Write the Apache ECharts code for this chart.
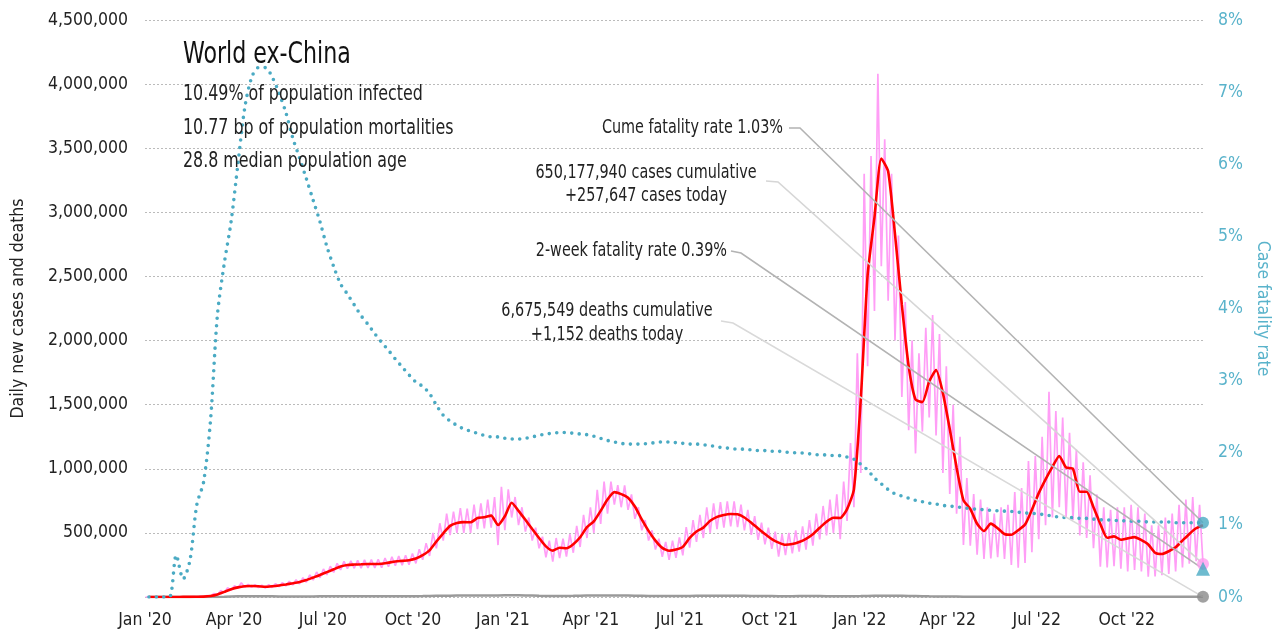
<!DOCTYPE html>
<html><head><meta charset="utf-8">
<script src="https://cdn.jsdelivr.net/npm/echarts@6/dist/echarts.min.js"></script>
<style>html,body{margin:0;padding:0;background:#fff}#c{width:1273px;height:637px}</style>
</head><body><div id="c"></div>
<script>
const FONT = "'Liberation Sans Narrow','Arial Narrow','DejaVu Sans Condensed',sans-serif";

// weekly observation grid: first week-ending date
const firstWeek = '2020-01-05';
const axisStart = '2020-01-01';
const axisEnd = '2022-12-18';
const monthNames = ['Jan','Feb','Mar','Apr','May','Jun','Jul','Aug','Sep','Oct','Nov','Dec'];

// 7-day average of daily new cases (thousands), weekly
const avgCases = [
0,0,0,0,0,1,1,2,3,8,
20,40,60,75,84,86,84,80,84,90,
98,107,117,132,152,172,194,216,238,250,
253,255,257,257,259,268,277,282,287,300,
327,364,433,497,555,577,584,583,616,622,
635,561,630,735,672,602,530,460,395,362,
384,380,412,466,545,590,672,760,818,802,
774,706,605,516,440,383,361,370,391,461,
511,541,594,625,640,647,645,620,579,534,
491,452,424,407,413,429,454,490,540,587,
618,616,685,840,1540,2510,2960,3420,3320,2830,
2280,1800,1540,1520,1680,1770,1590,1310,1010,755,
688,571,515,572,536,491,485,520,565,680,
810,918,1015,1100,1010,1000,821,821,700,570,
462,473,447,457,467,444,410,345,335,357,
388,440,492,536,560];

// daily new cases: weekly high (mid-week) and low (week end), thousands
const dailyHigh = [
0,0,0,0,0,1,2,3,5,12,
28,50,72,88,111,98,96,92,96,104,
112,122,134,150,172,195,218,240,262,278,
282,285,290,292,294,304,314,320,326,340,
372,420,500,575,650,665,694,690,720,731,
760,780,860,840,780,700,620,540,470,440,
460,455,490,555,640,700,835,900,900,873,
870,800,700,600,520,455,430,440,465,545,
600,640,700,731,740,745,745,720,680,630,
580,540,510,490,500,520,550,600,650,710,
760,800,900,1200,1900,3300,3440,4080,3570,3300,
2820,2300,2000,1900,2100,2200,2050,1800,1500,1250,
928,803,760,700,650,700,720,819,850,1060,
1100,1250,1600,1450,1400,1280,1150,1050,950,800,
700,680,700,700,720,700,650,560,560,620,
650,720,760,780,720];
const dailyLow = [
0,0,0,0,0,1,1,1,2,5,
15,33,52,68,76,76,74,70,74,80,
86,94,102,115,132,150,172,192,212,222,
224,225,226,226,228,236,244,248,252,262,
290,320,380,440,483,500,500,500,530,535,
540,405,522,620,560,510,440,380,310,275,
304,315,345,390,460,500,570,650,720,700,
680,610,520,440,370,314,289,305,325,385,
430,460,500,530,540,550,545,520,485,445,
410,375,314,327,340,353,370,400,450,480,
500,450,593,700,967,1800,2230,2580,2310,2000,
1560,1300,1120,1290,1400,1260,967,803,650,405,
400,330,296,300,310,296,250,228,265,350,
450,560,620,700,620,600,480,460,380,236,
230,240,220,200,210,200,158,160,170,180,
200,230,260,280,257.647];

// daily deaths (thousands), weekly
const dailyDeaths = [
0,0,0,0,0,0,0,0,0.01,0.05,
0.3,1.2,3.5,5.5,6.5,6.8,6.3,5.8,5.2,4.6,
4.3,4.2,4.4,4.5,4.6,5.0,5.3,5.6,5.7,5.8,
5.8,5.6,5.4,5.3,5.3,5.3,5.4,5.6,5.8,6.3,
7.0,8.0,9.0,10.0,10.5,10.8,11.0,11.2,11.5,11.5,
11.8,11.0,13.0,14.0,13.8,12.5,11.0,9.5,8.5,8.0,
8.0,8.3,9.0,10.0,11.0,11.8,12.0,12.3,12.5,12.0,
11.0,10.0,9.3,8.5,8.0,7.5,7.4,7.5,7.8,8.3,
9.0,9.5,9.8,10.0,10.0,9.8,9.3,8.8,8.2,7.6,
7.2,7.0,6.8,6.7,6.8,7.0,7.0,7.0,7.0,6.8,
6.6,6.4,6.3,6.8,7.5,8.5,9.5,10.2,10.3,10.0,
9.0,8.0,7.0,6.0,5.0,4.3,3.8,3.4,3.0,2.6,
2.3,2.1,1.9,1.8,1.7,1.7,1.8,1.9,2.0,2.1,
2.3,2.4,2.4,2.4,2.3,2.2,2.0,1.9,1.8,1.7,
1.6,1.5,1.5,1.5,1.4,1.4,1.3,1.3,1.3,1.3,
1.3,1.3,1.4,1.4,1.152];

// cumulative case fatality rate (%), weekly
const cfr = [
0,0,0,0,0.58,0.25,0.51,1.28,1.6,2.45,
3.9,4.62,5.2,6.0,6.78,7.2,7.34,7.34,7.21,6.99,
6.72,6.37,6.09,5.8,5.5,5.2,4.86,4.58,4.34,4.2,
4.05,3.9,3.78,3.65,3.53,3.42,3.3,3.19,3.08,2.98,
2.92,2.82,2.66,2.52,2.44,2.38,2.33,2.3,2.27,2.24,
2.22,2.22,2.2,2.19,2.19,2.2,2.22,2.24,2.26,2.27,
2.28,2.28,2.27,2.26,2.25,2.23,2.2,2.17,2.15,2.13,
2.12,2.12,2.12,2.13,2.14,2.15,2.15,2.14,2.13,2.12,
2.12,2.11,2.1,2.08,2.07,2.06,2.05,2.05,2.04,2.03,
2.03,2.02,2.02,2.01,2.0,2.0,1.99,1.98,1.97,1.97,
1.96,1.96,1.94,1.91,1.84,1.76,1.65,1.57,1.49,1.43,
1.4,1.37,1.34,1.32,1.3,1.29,1.27,1.26,1.25,1.235,
1.225,1.215,1.21,1.2,1.195,1.19,1.185,1.175,1.165,1.16,
1.15,1.14,1.12,1.11,1.1,1.1,1.09,1.09,1.08,1.07,
1.07,1.06,1.06,1.05,1.05,1.05,1.04,1.04,1.04,1.04,
1.03,1.03,1.03,1.03,1.03];

// summary figures
const cumeCFR = 1.03;
const twoWeekCFR = 0.39;
const casesCumulative = 650177940;
const casesToday = 257647;
const deathsCumulative = 6675549;
const deathsToday = 1152;
const titleText = 'World ex-China';
const subLines = ['10.49% of population infected', '10.77 bp of population mortalities', '28.8 median population age'];

function parseDay(s){ const p = s.split('-').map(Number); return new Date(p[0], p[1]-1, p[2]).getTime(); }
const DAY = 86400000;
const w0 = parseDay(firstWeek);
const weekT = avgCases.map((_, k) => w0 + 7*k*DAY);
const tEnd = parseDay(axisEnd);

const avgData = avgCases.map((v,k) => [weekT[k], v*1000]);
const deathData = dailyDeaths.map((v,k) => [weekT[k], v*1000]);
const cfrData = cfr.map((v,k) => [weekT[k], v]);
const dailyData = [];
dailyHigh.forEach((v,k) => {
  dailyData.push([weekT[k] - 3.5*DAY, v*1000]);
  dailyData.push([weekT[k], dailyLow[k]*1000]);
});

const fmt = n => n.toLocaleString('en-US');
const TEAL = '#4aaac3';
const TEAL_TXT = '#5ab3cb';
const AX = 17.5;
const chart = echarts.init(document.getElementById('c'));
chart.setOption({
  animation: false,
  backgroundColor: '#fff',
  textStyle: { fontFamily: FONT },
  grid: { left: 145, right: 70, top: 20, bottom: 40, containLabel: false, outerBoundsMode: 'none' },
  xAxis: {
    type: 'time',
    min: parseDay(axisStart), max: tEnd,
    splitNumber: 12,
    axisLine: { show: false }, axisTick: { show: false },
    splitLine: { show: false },
    axisLabel: {
      formatter: v => { const d = new Date(v); return monthNames[d.getMonth()] + " '" + String(d.getFullYear()).slice(2); },
      fontFamily: FONT, fontSize: AX, color: '#222', margin: 14, hideOverlap: false
    }
  },
  yAxis: [{
    type: 'value', min: 0, max: 4500000, interval: 500000,
    name: 'Daily new cases and deaths', nameLocation: 'middle', nameGap: 118,
    nameTextStyle: { fontFamily: FONT, fontSize: AX, color: '#222' },
    axisLine: { show: false }, axisTick: { show: false },
    axisLabel: { formatter: v => v === 0 ? '' : fmt(v), fontFamily: FONT, fontSize: AX, color: '#222', margin: 17 },
    splitLine: { lineStyle: { type: [2, 2], color: '#bbb', width: 1 } }
  }, {
    type: 'value', min: 0, max: 8, interval: 1, position: 'right',
    name: 'Case fatality rate', nameLocation: 'middle', nameGap: 43, nameRotate: -90,
    nameTextStyle: { fontFamily: FONT, fontSize: AX, color: TEAL_TXT },
    axisLine: { show: false }, axisTick: { show: false },
    axisLabel: { formatter: v => v + '%', fontFamily: FONT, fontSize: AX, color: TEAL_TXT, margin: 15 },
    splitLine: { show: false }
  }],
  series: [
    { name: 'Daily cases', type: 'line', data: dailyData, showSymbol: false, z: 1,
      lineStyle: { color: '#ff9ef6', width: 1.7 } },
    { name: 'Daily deaths', type: 'line', data: deathData, showSymbol: false, z: 2,
      lineStyle: { color: '#9a9a9a', width: 2.5 } },
    { name: '7-day average', type: 'line', data: avgData, showSymbol: false, z: 3, smooth: 0.2,
      lineStyle: { color: '#ff0000', width: 2.6 } },
    { name: 'Case fatality rate', type: 'line', yAxisIndex: 1, data: cfrData, showSymbol: false, z: 4, smooth: 0.3,
      lineStyle: { color: TEAL, width: 3.6, type: [0, 7.5], cap: 'round' } },
    { type: 'scatter', data: [[tEnd, deathsToday]], symbolSize: 12, itemStyle: { color: '#8a8a8a' }, z: 10 },
    { type: 'scatter', data: [[tEnd, casesToday]], symbolSize: 12, itemStyle: { color: '#ff9ef0' }, z: 10 },
    { type: 'scatter', yAxisIndex: 1, data: [[tEnd, twoWeekCFR]], symbol: 'triangle', symbolSize: 14, itemStyle: { color: TEAL }, z: 10 },
    { type: 'scatter', yAxisIndex: 1, data: [[tEnd, cumeCFR]], symbolSize: 12, itemStyle: { color: TEAL }, z: 10 }
  ]
});

// title block and annotations (condensed text), leader lines to the end points
const SX = 0.82;
const pL = v => chart.convertToPixel({ xAxisIndex: 0, yAxisIndex: 0 }, [tEnd, v]);
const pR = v => chart.convertToPixel({ xAxisIndex: 0, yAxisIndex: 1 }, [tEnd, v]);
const txt = (t, x, y, align, size, color) => ({ type: 'text', z: 20, x, y, scaleX: SX,
  style: { text: t, x: 0, y: 0, textAlign: align, textVerticalAlign: 'middle', fontFamily: FONT, fontSize: size || 19.5, fill: color || '#222' } });
const leader = (pts, color) => ({ type: 'polyline', z: 6, shape: { points: pts }, style: { stroke: color, lineWidth: 1.6, fill: null } });
const e1 = pR(cumeCFR), e2 = pL(casesToday), e3 = pR(twoWeekCFR), e4 = pL(deathsToday);
chart.setOption({
  graphic: [
    txt(titleText, 183, 55, 'left', 30, '#111'),
    txt(subLines[0], 183, 94.5, 'left', 21.5),
    txt(subLines[1], 183, 128, 'left', 21.5),
    txt(subLines[2], 183, 161.5, 'left', 21.5),
    txt('Cume fatality rate ' + cumeCFR.toFixed(2) + '%', 783, 127.5, 'right'),
    leader([[789, 128], [800, 128], e1], '#b3b3b3'),
    txt(fmt(casesCumulative) + ' cases cumulative', 646, 172.5, 'center'),
    txt('+' + fmt(casesToday) + ' cases today', 646, 195.5, 'center'),
    leader([[766, 181], [778, 182], e2], '#d6d6d6'),
    txt('2-week fatality rate ' + twoWeekCFR.toFixed(2) + '%', 727, 250.5, 'right'),
    leader([[731, 251], [741, 253], e3], '#b3b3b3'),
    txt(fmt(deathsCumulative) + ' deaths cumulative', 607, 310.5, 'center'),
    txt('+' + fmt(deathsToday) + ' deaths today', 607, 334.5, 'center'),
    leader([[721, 321], [733, 323], e4], '#d9d9d9')
  ]
});
</script></body></html>
